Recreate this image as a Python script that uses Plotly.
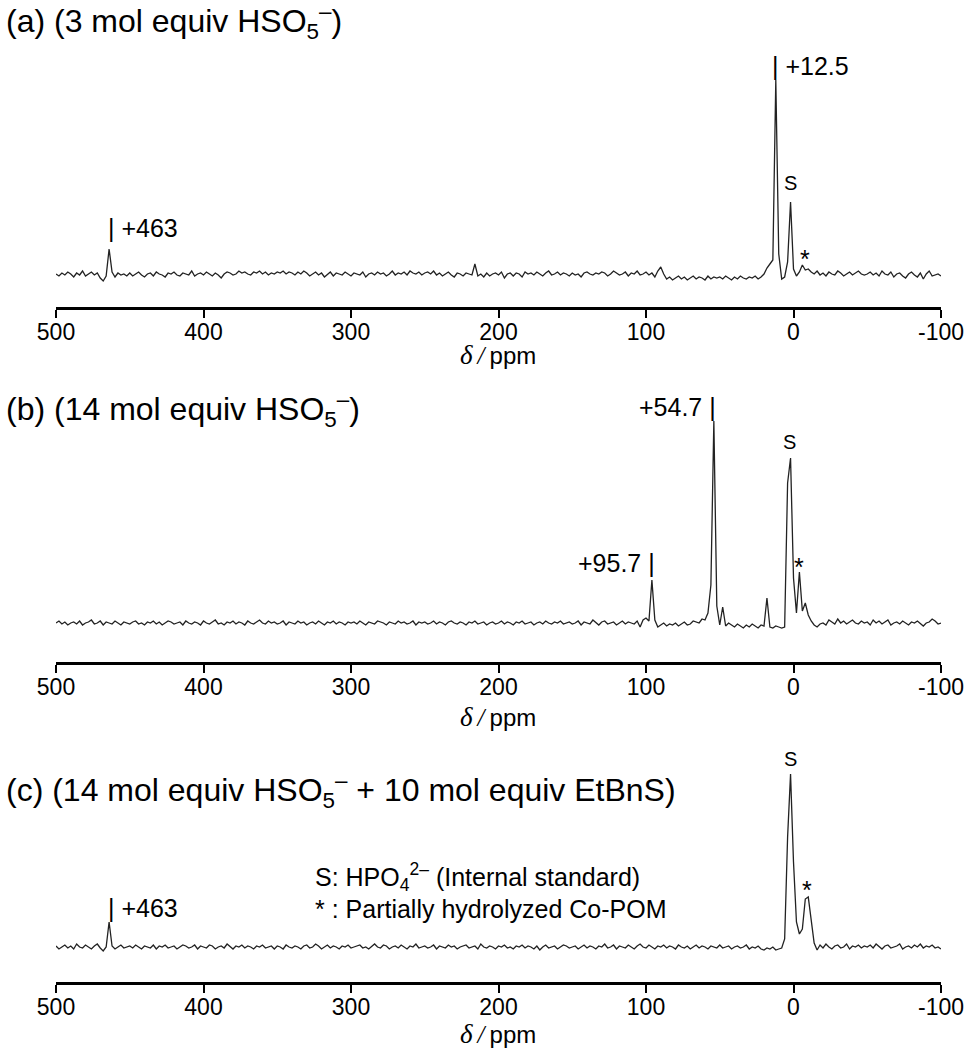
import numpy as np
import plotly.graph_objects as go

# ---------------- data ----------------
# chemical-shift grid (ppm), 2 ppm steps from 500 down to -100
ppm = np.arange(500, -101, -2)

# (a) 3 mol equiv HSO5- : intensity (arbitrary units) on the ppm grid
spec_a = [
    0, -2, 1, -1, 2, 0, -3, 1, -1, 3, -2, 0, 2, -1, 1, -4, -7, -2, 25, 2, -3, 1, -1, 0, -2,
    1, -2, 0, 2, -1, -3, 0, 1, -2, 2, 0, -1, -3, 1, 0, 2, -1, -2, 1, 0, -1, 3, -2, 0, 1,
    -1, 2, 0, -2, 1, -1, -4, 0, 2, 1, -1, 0, 3, 1, 2, 0, -1, 2, 1, 3, 0, 2, -1, 1, 0,
    2, 1, 3, 0, 2, 1, -1, 2, 0, 3, 1, -2, 0, 2, -1, 1, -3, 0, 2, -2, 1, 0, -1, 2, 0,
    -2, 1, 0, -1, 2, -3, 0, 1, -1, 2, 0, 1, -2, 0, 3, -1, 1, 0, 2, -1, 3, 1, 0, 2, -1,
    1, 2, 0, 3, -1, 1, -2, 0, 2, -1, -3, 1, 0, -2, 1, 0, -1, 10, -2, 0, -3, 1, -2, 0, 1,
    -1, 2, -4, 0, 1, -2, 1, 0, -3, 2, 0, 1, -1, 2, 0, -2, 1, 3, -1, 0, 2, -1, 1, 0, -2,
    1, -1, 0, -3, 1, 2, 0, -1, 1, 0, 2, 1, -2, 0, 3, 1, -1, 0, 2, -2, 1, 0, 3, -1, 0,
    2, -1, 1, -3, 3, 7, 0, -5, -3, -6, -4, -2, -5, -3, -6, -4, -2, -5, -3, -4, -6, -2, -5, -3, -4,
    -3, -5, -2, -4, -6, -3, -5, -2, -4, -5, -3, -4, -2, -5, -3, 0, 6, 10, 14, 194, 20, -5, -3, 12, 72,
    5, -2, 2, 9, 4, 5, 2, 0, 3, -1, 1, -2, 2, 0, -1, 3, 1, -2, 0, 2, -1, 1, 3, 0, -1,
    0, 2, -1, 1, -2, 3, 0, -1, 2, -3, 0, 1, -2, -4, 0, 2, -1, -3, 1, -5, 0, 3, -2, -1, 0,
    -2,
]

# (b) 14 mol equiv HSO5-
spec_b = [
    0, 2, -1, 1, -2, 0, 1, -1, 2, -2, 0, 1, 3, -1, 0, 2, -2, 1, 0, -1, 2, 0, -2, 1, 0,
    -1, 1, 2, -1, 0, -2, 1, 0, 2, -1, 1, -2, 0, 2, 1, -1, 0, 1, -2, 2, 0, -1, 1, 0, -2,
    2, 0, -1, 1, 3, -1, 0, -2, 1, 0, 2, -1, 1, 0, -2, 2, 0, -1, 1, 3, 0, -1, 2, 0, 1,
    -1, 0, 2, -2, 1, 0, -1, 2, 0, 1, -2, 0, 1, -1, 2, 0, -2, 1, 0, 2, -1, 1, 0, -2, 1,
    0, 1, -1, 2, 0, -2, 1, 0, -1, 2, 1, 0, -2, 1, 0, -1, 2, 0, 1, -1, 0, 2, -2, 1, 0,
    1, -1, 0, 2, -1, 1, 0, -2, 1, 2, 0, -1, 1, 0, -2, 1, 0, 2, -1, 0, 1, -2, 0, 1, -1,
    0, 2, -1, 1, 0, -2, 1, 0, 2, -1, 0, 1, -2, 0, 1, -1, 2, 0, -1, 1, 0, 2, -1, 0, 1,
    -1, 0, 2, -2, 1, 0, -1, 3, 0, -2, 1, 2, -1, 0, 1, -2, 0, 2, -1, 1, 0, -1, 2, -4, 3,
    5, 2, 43, 3, -4, -2, 0, -3, -1, -2, 0, -3, -1, 1, -2, -1, 2, 1, 0, 4, 3, 10, 38, 202, 17,
    -2, 16, -3, 0, -2, -4, -1, -3, -5, -2, -4, -1, -3, -5, -2, -3, 25, -4, -5, -3, -4, -5, -4, 140, 165,
    45, 10, 51, 12, 20, 8, 2, -2, -4, -1, 0, -2, 3, 1, -1, 4, 0, 2, -1, 1, 3, 0, -1, 2, 0,
    1, -2, 3, 0, 2, -1, 1, 3, -2, 0, 1, -1, 2, 0, -2, 1, 0, 2, -1, -3, 0, 1, 4, 2, -1,
    0,
]

# (c) 14 mol equiv HSO5- + 10 mol equiv EtBnS
spec_c = [
    1, -2, 0, 2, -1, 1, -2, 3, 0, -1, 2, 0, -2, 1, 3, -1, -4, 0, 25, 1, -2, 0, 2, -1, 0,
    1, -1, 2, 0, -2, 1, 0, -1, 2, -2, 1, 0, 2, -1, 0, 1, -2, 0, 2, 1, -1, 0, 2, -2, 1,
    0, -1, 2, 1, -2, 0, 1, -1, 3, 0, -2, 1, 0, 2, -1, 1, 0, -2, 1, 0, 2, -1, 0, 1, -2,
    1, 0, -2, 2, 0, -1, 1, 0, -2, 1, 2, -1, 0, 3, 1, -2, 0, 2, -1, 1, 0, -2, 1, 0, 2,
    -1, 0, 1, 2, -1, 0, -2, 1, 3, 0, -1, 2, 1, -2, 0, 1, -1, 2, 0, -2, 1, 0, 3, -1, 0,
    1, -1, 0, 2, -2, 1, 0, -1, 2, 0, 1, -2, 0, 1, 2, -1, 0, 1, -2, 3, 0, -1, 1, 0, -2,
    1, 0, 2, -1, 0, -2, 1, 0, 2, -1, 1, 0, -2, 1, -3, 0, 2, -1, 0, 1, -2, 0, 2, 1, -1,
    0, 1, -2, 0, 2, -1, 1, 0, -2, 1, 0, 3, -1, 0, 2, -2, 1, 0, -1, 2, 0, -2, 1, 3, 0,
    -1, 2, 0, -2, 1, 0, 2, -1, 1, 0, -2, 2, 0, -1, 1, -2, 0, 2, -1, 1, 0, -2, 1, 0, -1,
    2, -1, 0, 1, -2, 0, 1, -1, 0, 2, -2, 0, -1, 1, -2, -3, -1, -2, 0, -3, -2, -1, 8, 110, 173,
    85, 25, 13, 18, 48, 50, 25, 4, -3, 2, -1, 3, 0, -2, 1, 2, -1, 0, 3, -2, 1, 0, 2, -1, 1,
    0, 2, -1, 3, 0, -2, 1, 2, -1, 0, 1, 3, -2, 0, 1, -1, 2, 0, 3, -1, 1, 0, 2, -1, 0,
    -2,
]

tick_vals = [500, 400, 300, 200, 100, 0, -100]
tick_text = ["500", "400", "300", "200", "100", "0", "-100"]

titles = [
    "(a) (3 mol equiv HSO<sub>5</sub><sup>–</sup>)",
    "(b) (14 mol equiv HSO<sub>5</sub><sup>–</sup>)",
    "(c) (14 mol equiv HSO<sub>5</sub><sup>–</sup> + 10 mol equiv EtBnS)",
]

# labelled shifts (ppm, label text, side of bar)
labels_a = [(463, "+463", "right"), (12.5, "+12.5", "right")]
labels_b = [(95.7, "+95.7", "left"), (54.7, "+54.7", "left")]
labels_c = [(463, "+463", "right")]

legend_lines = [
    "S: HPO<sub>4</sub><sup>2–</sup> (Internal standard)",
    "* : Partially hydrolyzed Co-POM",
]

# ---------------- layout helpers ----------------
W, H = 967, 1050
FONT = "Liberation Sans, Arial, Helvetica, sans-serif"
XLABEL = ("<span style='font-family:Liberation Serif;font-style:italic;font-size:27px'>δ</span>"
          "<span style='font-family:Liberation Serif;font-style:italic;font-size:25px'>\u2009/\u2009</span>ppm")


def py(px):
    return 1 - px / H


# panel geometry in pixels: axis line, baseline, top of plot area
panels = [
    dict(axis=307, base=274, top=60, title_y=22, xlab_y=355),
    dict(axis=662, base=623, top=400, title_y=409, xlab_y=717),
    dict(axis=982, base=947, top=750, title_y=790, xlab_y=1034),
]
specs = [spec_a, spec_b, spec_c]
x_dom = [56 / W, 941 / W]

fig = go.Figure()
ann = []
for k, (p, spec) in enumerate(zip(panels, specs)):
    sfx = "" if k == 0 else str(k + 1)
    fig.add_trace(go.Scatter(
        x=ppm, y=spec, mode="lines",
        line=dict(color="#222222", width=1.3),
        xaxis="x" + sfx, yaxis="y" + sfx, showlegend=False, hoverinfo="skip",
    ))
    fig.update_layout(**{
        "xaxis" + sfx: dict(
            domain=x_dom, anchor="y" + sfx, range=[500, -100],
            tickvals=tick_vals, ticktext=tick_text,
            showline=True, linecolor="black", linewidth=2.5,
            ticks="outside", ticklen=8, tickwidth=2, tickcolor="black",
            ticklabelstandoff=-5,
            showgrid=False, zeroline=False, automargin=False,
            tickfont=dict(family=FONT, size=23, color="black"),
        ),
        "yaxis" + sfx: dict(
            domain=[py(p["axis"]), py(p["top"])], anchor="x" + sfx,
            range=[-(p["axis"] - p["base"]), p["base"] - p["top"]],
            visible=False, automargin=False,
        ),
    })
    ann.append(dict(
        text=titles[k], xref="paper", yref="paper", x=4 / W, y=py(p["title_y"]),
        xanchor="left", yanchor="middle", showarrow=False,
        font=dict(family=FONT, size=32, color="black"),
    ))
    ann.append(dict(
        text=XLABEL,
        xref="paper", yref="paper", x=498 / W, y=py(p["xlab_y"]),
        xanchor="center", yanchor="middle", showarrow=False,
        font=dict(family=FONT, size=24, color="black"),
    ))


def peak_label(k, x, text, side, ypx):
    sfx = "" if k == 0 else str(k + 1)
    base = panels[k]["base"]
    if side == "right":
        return dict(text="| " + text, x=x, y=base - ypx, xref="x" + sfx, yref="y" + sfx,
                    xanchor="left", yanchor="middle", xshift=-5, showarrow=False,
                    font=dict(family=FONT, size=25, color="black"))
    return dict(text=text + " |", x=x, y=base - ypx, xref="x" + sfx, yref="y" + sfx,
                xanchor="right", yanchor="middle", xshift=5, showarrow=False,
                font=dict(family=FONT, size=25, color="black"))


label_ypx = [[228, 66], [563, 407], [908]]
for k, labs in enumerate([labels_a, labels_b, labels_c]):
    for (x, t, side), ypx in zip(labs, label_ypx[k]):
        ann.append(peak_label(k, x, t, side, ypx))

# S and * markers (x in ppm, y in px)
s_marks = [(2, 183), (2.4, 442), (2, 759)]
star_marks = [(-7.8, 259), (-3.9, 567), (-9, 890)]
for k in range(3):
    sfx = "" if k == 0 else str(k + 1)
    base = panels[k]["base"]
    ann.append(dict(text="S", x=s_marks[k][0], y=base - s_marks[k][1],
                    xref="x" + sfx, yref="y" + sfx, showarrow=False,
                    xanchor="center", yanchor="middle",
                    font=dict(family=FONT, size=20, color="black")))
    ann.append(dict(text="*", x=star_marks[k][0], y=base - star_marks[k][1],
                    xref="x" + sfx, yref="y" + sfx, showarrow=False,
                    xanchor="center", yanchor="middle",
                    font=dict(family=FONT, size=25, color="black")))

for line, ypx in zip(legend_lines, [877, 909]):
    ann.append(dict(text=line, xref="paper", yref="paper", x=313 / W, y=py(ypx),
                    xanchor="left", yanchor="middle", showarrow=False,
                    font=dict(family=FONT, size=25, color="black")))

fig.update_layout(
    width=W, height=H, margin=dict(l=0, r=0, t=0, b=0),
    paper_bgcolor="white", plot_bgcolor="white",
    annotations=ann, font=dict(family=FONT, color="black"),
)

fig.write_html("out.html")
